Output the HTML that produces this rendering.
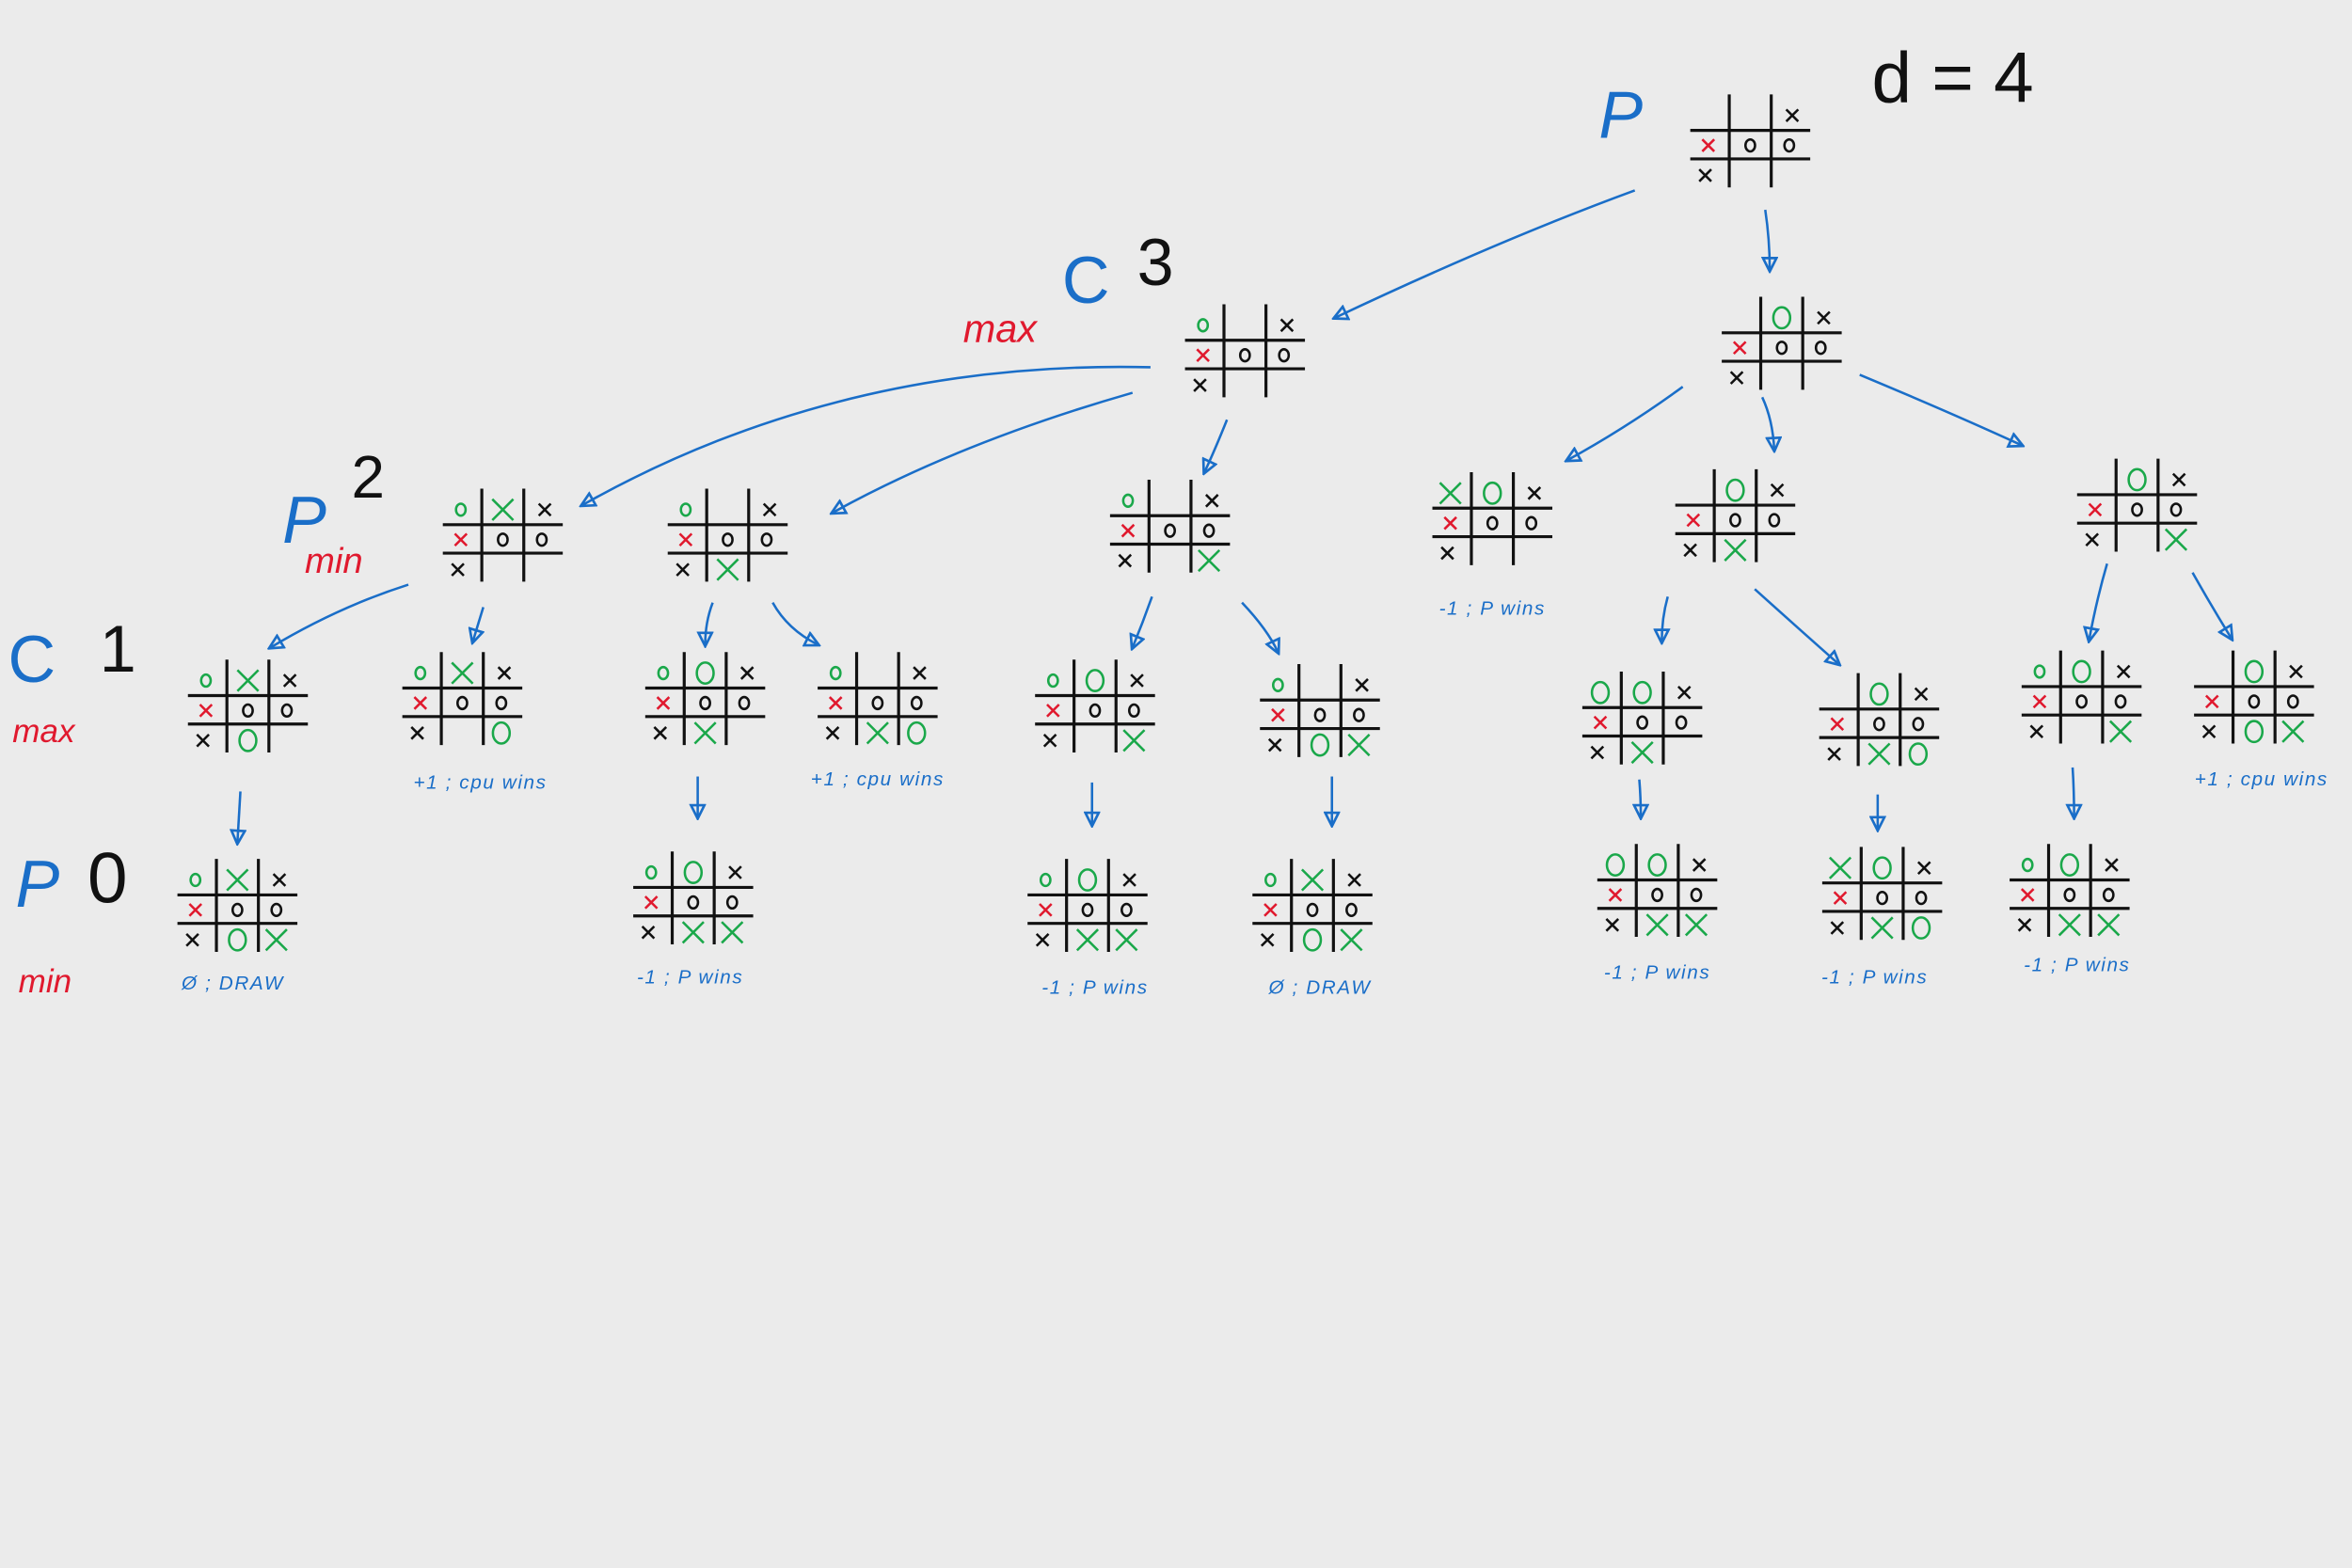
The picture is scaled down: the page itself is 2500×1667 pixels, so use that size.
<!DOCTYPE html>
<html><head><meta charset="utf-8"><style>
html,body{margin:0;padding:0;background:#ebebeb;}
svg{display:block;}
text{font-family:"Liberation Sans",sans-serif;}
</style></head><body>
<svg id="c" width="2500" height="1667" viewBox="0 0 1568 1046" xmlns="http://www.w3.org/2000/svg">
<rect width="1568" height="1046" fill="#ebebeb"/>
<defs><marker id="ah" viewBox="0 0 10 10" refX="8" refY="5" markerWidth="7" markerHeight="7" orient="auto-start-reverse"><path d="M1,1 L9,5 L1,9 Z" fill="none" stroke="#1a6ec8" stroke-width="1.5"/></marker></defs>
<g id="labels" fill="none">
<text x="1066" y="92" font-size="44" fill="#1a6ec8" font-style="italic">P</text>
<text x="1248" y="68" font-size="48" fill="#111">d = 4</text>
<text x="642" y="228" font-size="26" fill="#e0192e" font-style="italic">max</text>
<text x="708" y="202" font-size="44" fill="#1a6ec8">C</text>
<text x="758" y="190" font-size="44" fill="#111">3</text>
<text x="188" y="362" font-size="44" fill="#1a6ec8" font-style="italic">P</text>
<text x="234" y="332" font-size="40" fill="#111">2</text>
<text x="203" y="382" font-size="24" fill="#e0192e" font-style="italic">min</text>
<text x="5" y="455" font-size="44" fill="#1a6ec8">C</text>
<text x="66" y="448" font-size="44" fill="#111">1</text>
<text x="8" y="495" font-size="22" fill="#e0192e" font-style="italic">max</text>
<text x="10" y="605" font-size="44" fill="#1a6ec8" font-style="italic">P</text>
<text x="58" y="602" font-size="48" fill="#111">0</text>
<text x="12" y="662" font-size="22" fill="#e0192e" font-style="italic">min</text>
</g>
<g id="arrows"></g>
<g id="boards"></g>
<g id="results"></g>
</svg>
<script>
// board centers and extra (green) marks
const boardX=[1167,830,1188,335,485,780,995,1157,1425,165,308,470,585,730,880,1095,1253,1388,1503,158,462,725,875,1105,1255,1380];
const boardY=[95,235,230,358,358,352,347,345,338,472,467,467,467,472,475,480,481,466,466,605,600,605,605,595,597,595];
const boardMarks=[
"", "TL:o","TM:O",
"TL:o,TM:X","TL:o,BM:X","TL:o,BR:X","TL:X,TM:O","TM:O,BM:X","TM:O,BR:X",
"TL:o,TM:X,BM:O","TL:o,TM:X,BR:O","TL:o,TM:O,BM:X","TL:o,BM:X,BR:O","TL:o,TM:O,BR:X","TL:o,BM:O,BR:X","TL:O,TM:O,BM:X","TM:O,BM:X,BR:O","TL:o,TM:O,BR:X","TM:O,BM:O,BR:X",
"TL:o,TM:X,BM:O,BR:X","TL:o,TM:O,BM:X,BR:X","TL:o,TM:O,BM:X,BR:X","TL:o,TM:X,BM:O,BR:X","TL:O,TM:O,BM:X,BR:X","TL:X,TM:O,BM:X,BR:O","TL:o,TM:O,BM:X,BR:X"];
const resultText=["-1 ; P wins","+1 ; cpu wins","+1 ; cpu wins","+1 ; cpu wins","Ø ; DRAW","-1 ; P wins","-1 ; P wins","Ø ; DRAW","-1 ; P wins","-1 ; P wins","-1 ; P wins"];
const resultX=[995,320,585,1508,155,460,730,880,1105,1250,1385];
const resultY=[410,526,524,524,660,656,663,663,653,656,648];
const arrows=[[1090,127,1000,160,890,212],[1177,140,1180,160,1180,180],[767,245,560,240,388,337],[755,262,640,295,555,342],[818,280,810,300,803,315],[1122,258,1085,285,1045,307],[1175,265,1182,280,1183,300],[1240,250,1300,275,1348,297],[272,390,225,405,180,432],[322,405,318,418,315,428],[475,402,470,415,470,430],[515,402,525,420,545,430],[768,398,762,415,755,432],[828,402,845,420,852,435],[1112,398,1108,412,1108,428],[1170,393,1200,420,1226,443],[1405,376,1398,400,1393,427],[1462,382,1475,405,1488,426],[160,528,159,545,158,562],[465,518,465,530,465,545],[728,522,728,535,728,550],[888,518,888,535,888,550],[1093,520,1094,532,1094,545],[1252,530,1252,540,1252,553],[1382,512,1383,528,1383,545]];
const NS="http://www.w3.org/2000/svg";
function mk(tag,attrs,parent){const e=document.createElementNS(NS,tag);for(const k in attrs)e.setAttribute(k,attrs[k]);parent.appendChild(e);return e;}
const ag=document.getElementById('arrows');
arrows.forEach((a,i)=>{
  const p=mk('path',{d:`M${a[0]},${a[1]} Q${a[2]},${a[3]} ${a[4]},${a[5]}`,fill:'none',stroke:'#1a6ec8','stroke-width':1.6,'marker-end':'url(#ah)'},ag);
  
  
});
const cellOff={TL:[-28,-18],TM:[0,-18],TR:[28,-18],ML:[-28,2],MM:[0,2],MR:[26,2],BL:[-30,22],BM:[0,22],BR:[26,22]};
function drawMark(g,cx,cy,cell,sym,color){
  const [dx,dy]=cellOff[cell];const x=cx+dx,y=cy+dy;
  const big=(sym==='X'||sym==='O');const r=big?7:4;
  if(sym.toLowerCase()==='x'){
    mk('path',{d:`M${x-r},${y-r} L${x+r},${y+r} M${x+r},${y-r} L${x-r},${y+r}`,stroke:color,'stroke-width':1.6,fill:'none'},g);
  }else{
    mk('ellipse',{cx:x,cy:y,rx:r*0.8,ry:r,stroke:color,'stroke-width':1.6,fill:'none'},g);
  }
}
const bg=document.getElementById('boards');
boardX.forEach((cx,i)=>{
  const cy=boardY[i];
  const g=mk('g',{},bg);
  
  
  mk('path',{d:`M${cx-14},${cy-32} L${cx-14},${cy+30} M${cx+14},${cy-32} L${cx+14},${cy+30} M${cx-40},${cy-8} L${cx+40},${cy-8} M${cx-40},${cy+11} L${cx+40},${cy+11}`,stroke:'#111','stroke-width':2,fill:'none'},g);
  drawMark(g,cx,cy,'TR','x','#111');
  drawMark(g,cx,cy,'ML','x','#e0192e');
  drawMark(g,cx,cy,'MM','o','#111');
  drawMark(g,cx,cy,'MR','o','#111');
  drawMark(g,cx,cy,'BL','x','#111');
  if(boardMarks[i])boardMarks[i].split(',').forEach(s=>{const [c,m]=s.split(':');drawMark(g,cx,cy,c,m,'#1aa84a');});
});
const rg=document.getElementById('results');
resultText.forEach((t,i)=>{
  const e=mk('text',{x:resultX[i],y:resultY[i],'font-size':13,fill:'#1a6ec8','text-anchor':'middle','font-style':'italic','letter-spacing':'1'},rg);
  e.textContent=t;
  
  
});
</script>
</body></html>
